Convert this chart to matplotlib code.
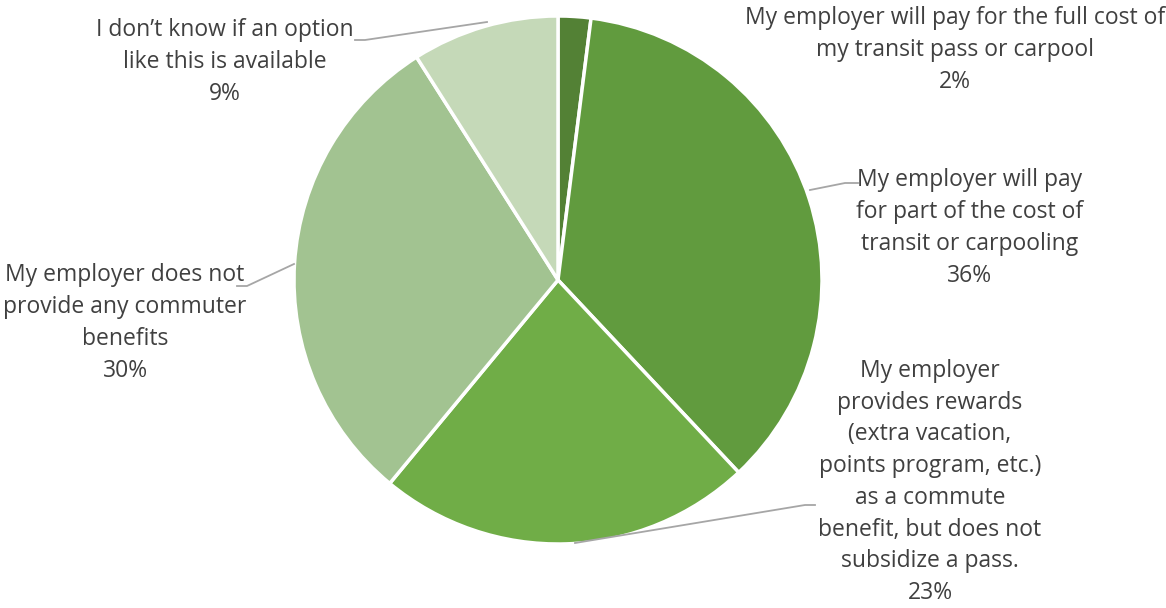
import matplotlib.pyplot as plt
import numpy as np

# commuter benefit survey responses (percent)
labels = ['My employer will pay for the full cost of\nmy transit pass or carpool',
          'My employer will pay\nfor part of the cost of\ntransit or carpooling',
          'My employer\nprovides rewards\n(extra vacation,\npoints program, etc.)\nas a commute\nbenefit, but does not\nsubsidize a pass.',
          'My employer does not\nprovide any commuter\nbenefits',
          'I don\u2019t know if an option\nlike this is available']
values = [2, 36, 23, 30, 9]
colors = ['#538135', '#619b3e', '#70ad47', '#a2c391', '#c5d9b8']

W, H = 1166, 608
fig = plt.figure(figsize=(W / 100, H / 100), dpi=100)
ax = fig.add_axes([0, 0, 1, 1])
ax.set_xlim(0, W)
ax.set_ylim(H, 0)
ax.set_aspect('equal')
ax.axis('off')

cx, cy, r = 558, 280, 264
# y axis is inverted, so counterclock=True draws clockwise on screen
wedges, _ = ax.pie(values, colors=colors, startangle=-90, counterclock=True,
                   center=(cx, cy), radius=r,
                   wedgeprops=dict(edgecolor='white', linewidth=2.5))
ax.set_xlim(0, W)
ax.set_ylim(H, 0)

# label centres and leader lines (start on pie edge, elbow, end at text)
text_pos = [(955, 50), (970, 228), (930, 482), (125, 323), (225, 62)]
leaders = [None,
           [(810, 190), (845, 183), (858, 183)],
           [(575, 543), (805, 505), (815, 505)],
           [(294, 264), (247, 286), (237, 286)],
           [(487, 22), (365, 40), (355, 40)]]

for lab, v, (tx, ty), ld in zip(labels, values, text_pos, leaders):
    ax.text(tx, ty, lab + '\n' + str(v) + '%', ha='center', va='center',
            fontsize=16.5, family='Open Sans', color='#404040',
            linespacing=1.43)
    if ld is not None:
        xs, ys = zip(*ld)
        ax.plot(xs, ys, color='#a6a6a6', lw=1.3)

fig.savefig('out.png', dpi=100)
